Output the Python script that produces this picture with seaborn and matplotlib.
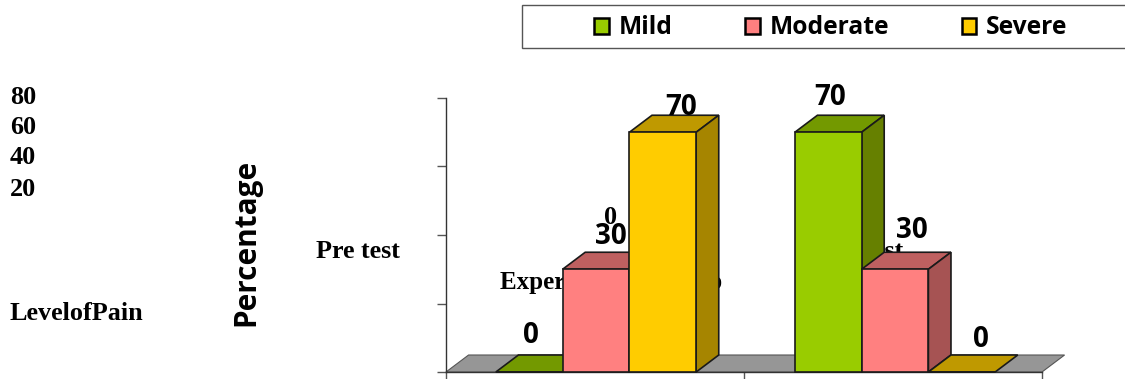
import matplotlib
matplotlib.use("Agg")
import matplotlib.pyplot as plt
from matplotlib.patches import Patch, Polygon, Rectangle
import pandas as pd
import seaborn as sns

# Pain level distribution per test phase
phases = ["Pre test", "Post test"]
levels = ["Mild", "Moderate", "Severe"]
pre_values = [0, 30, 70]
post_values = [70, 30, 0]
y_tick_values = [0, 20, 40, 60, 80]
side_numbers = ["80", "60", "40", "20"]

front_colors = {"Mild": "#99CC00", "Moderate": "#FF8080", "Severe": "#FFCC00"}
top_colors = {"Mild": "#739900", "Moderate": "#BF6060", "Severe": "#BF9900"}
side_colors = {"Mild": "#668000", "Moderate": "#A65353", "Severe": "#A68500"}

# Hand placement of value labels in pixels, per (level, phase)
label_nudge = {
    ("Mild", 0): (-10, 2), ("Mild", 1): (-9, 0),
    ("Moderate", 0): (4, -2), ("Moderate", 1): (6, 4),
    ("Severe", 0): (7, -10), ("Severe", 1): (8, -2),
}

W, H = 1125, 379
SERIF = "Liberation Serif"
SANS = "Open Sans"


def fx(px):
    return px / W


def fy(py):
    return 1 - py / H


sns.set_theme(style="white")
fig = plt.figure(figsize=(W / 100, H / 100), dpi=100, facecolor="white")
ax = fig.add_axes([fx(446), fy(372), 596 / W, 274 / H], facecolor="none")

records = pd.DataFrame(
    {
        "phase": [p for p in phases for _ in levels],
        "level": levels * len(phases),
        "value": pre_values + post_values,
    }
)
sns.barplot(
    data=records, x="phase", y="value", hue="level", hue_order=levels,
    palette=front_colors, width=0.67, gap=0, legend=False, ax=ax, saturation=1,
    edgecolor="#1a1a1a", linewidth=1.2, errorbar=None,
)
x_left, x_right = -0.5017, 1.4916
ax.set_xlim(x_left, x_right)
ax.set_ylim(0, 80)

# Oblique depth offset of the extruded faces, in data units
dx = 22.5 / 298
dy = 17 / (274 / 80)

# Floor plane
ax.add_patch(Polygon(
    [(x_left, 0), (x_right, 0), (x_right + dx, dy), (x_left + dx, dy)], closed=True,
    facecolor="#969696", edgecolor="#555555", linewidth=0.8,
    zorder=1, clip_on=False,
))

# Extrude each bar with a top and a side face
for level, container in zip(levels, ax.containers):
    order = levels.index(level)
    for phase_index, bar in enumerate(container):
        x0, w, h = bar.get_x(), bar.get_width(), bar.get_height()
        base = 4 + 2 * order
        bar.set_zorder(base + 1)
        bar.set_clip_on(False)
        ax.add_patch(Polygon(
            [(x0, h), (x0 + w, h), (x0 + w + dx, h + dy), (x0 + dx, h + dy)],
            closed=True, facecolor=top_colors[level], edgecolor="#1a1a1a",
            linewidth=1.2, zorder=base, clip_on=False,
        ))
        if h > 0:
            ax.add_patch(Polygon(
                [(x0 + w, 0), (x0 + w + dx, dy), (x0 + w + dx, h + dy), (x0 + w, h)],
                closed=True, facecolor=side_colors[level], edgecolor="#1a1a1a",
                linewidth=1.2, zorder=base, clip_on=False,
            ))
        nudge_x, nudge_y = label_nudge[(level, phase_index)]
        ax.annotate(
            f"{h:.0f}", (x0 + w / 2 + dx / 2, h + dy),
            xytext=(nudge_x * 0.72, (1.5 + nudge_y) * 0.72 + 1),
            textcoords="offset points", ha="center", va="bottom",
            family=SANS, fontweight="bold", fontsize=20, color="black",
            zorder=12, annotation_clip=False,
        )

# Axis lines and ticks
sns.despine(ax=ax, top=True, right=True)
for name in ("left", "bottom"):
    ax.spines[name].set_color("#333333")
    ax.spines[name].set_linewidth(1.0)
    ax.spines[name].set_zorder(2)
ax.set_xticks([x_left, (x_left + x_right) / 2, x_right])
ax.set_yticks(y_tick_values)
ax.tick_params(left=True, bottom=True, labelleft=False, labelbottom=False,
               color="#555555", width=1.0)
ax.tick_params(axis="y", length=6.5)
ax.tick_params(axis="x", length=5.5)
ax.set_xlabel("")
ax.set_ylabel("")


# Loose text layer placed behind the bars
def loose(px, py, text, size=18.8, z=3):
    ax.text(fx(px), fy(py), text, transform=fig.transFigure, family=SERIF,
            fontweight="bold", fontsize=size, color="black", ha="left",
            va="center", zorder=z, clip_on=False)


for py, label in zip([97.5, 127.5, 157.5, 189.5], side_numbers):
    loose(10, py, label)
loose(10, 313.5, "LevelofPain")
loose(316, 251.5, phases[0])
loose(810, 251.5, phases[1])
loose(500, 283, "Experimental Group", size=18)
loose(604, 218, "0")

ax.text(fx(246), fy(242), "Percentage", transform=fig.transFigure, family=SANS,
        fontweight="bold", fontsize=21.4, rotation=90, ha="center", va="center",
        color="black", clip_on=False)

# Legend strip running off the right edge of the canvas
fig.add_artist(Rectangle(
    (fx(522), fy(48)), 620 / W, 43 / H, transform=fig.transFigure,
    facecolor="white", edgecolor="#555555", linewidth=1.0, clip_on=False,
))
handles = [Patch(facecolor=front_colors[n], edgecolor="black", linewidth=1.8, label=n)
           for n in levels]
legend = fig.legend(
    handles=handles, ncols=3, loc="center left",
    bbox_to_anchor=(fx(594), fy(28)), borderaxespad=0, borderpad=0,
    prop={"family": SANS, "weight": "bold", "size": 17.7}, labelcolor="black",
    frameon=False, handlelength=0.6, handleheight=0.6,
    handletextpad=0.4, columnspacing=2.95,
)

fig.savefig("out.png", dpi=100)
